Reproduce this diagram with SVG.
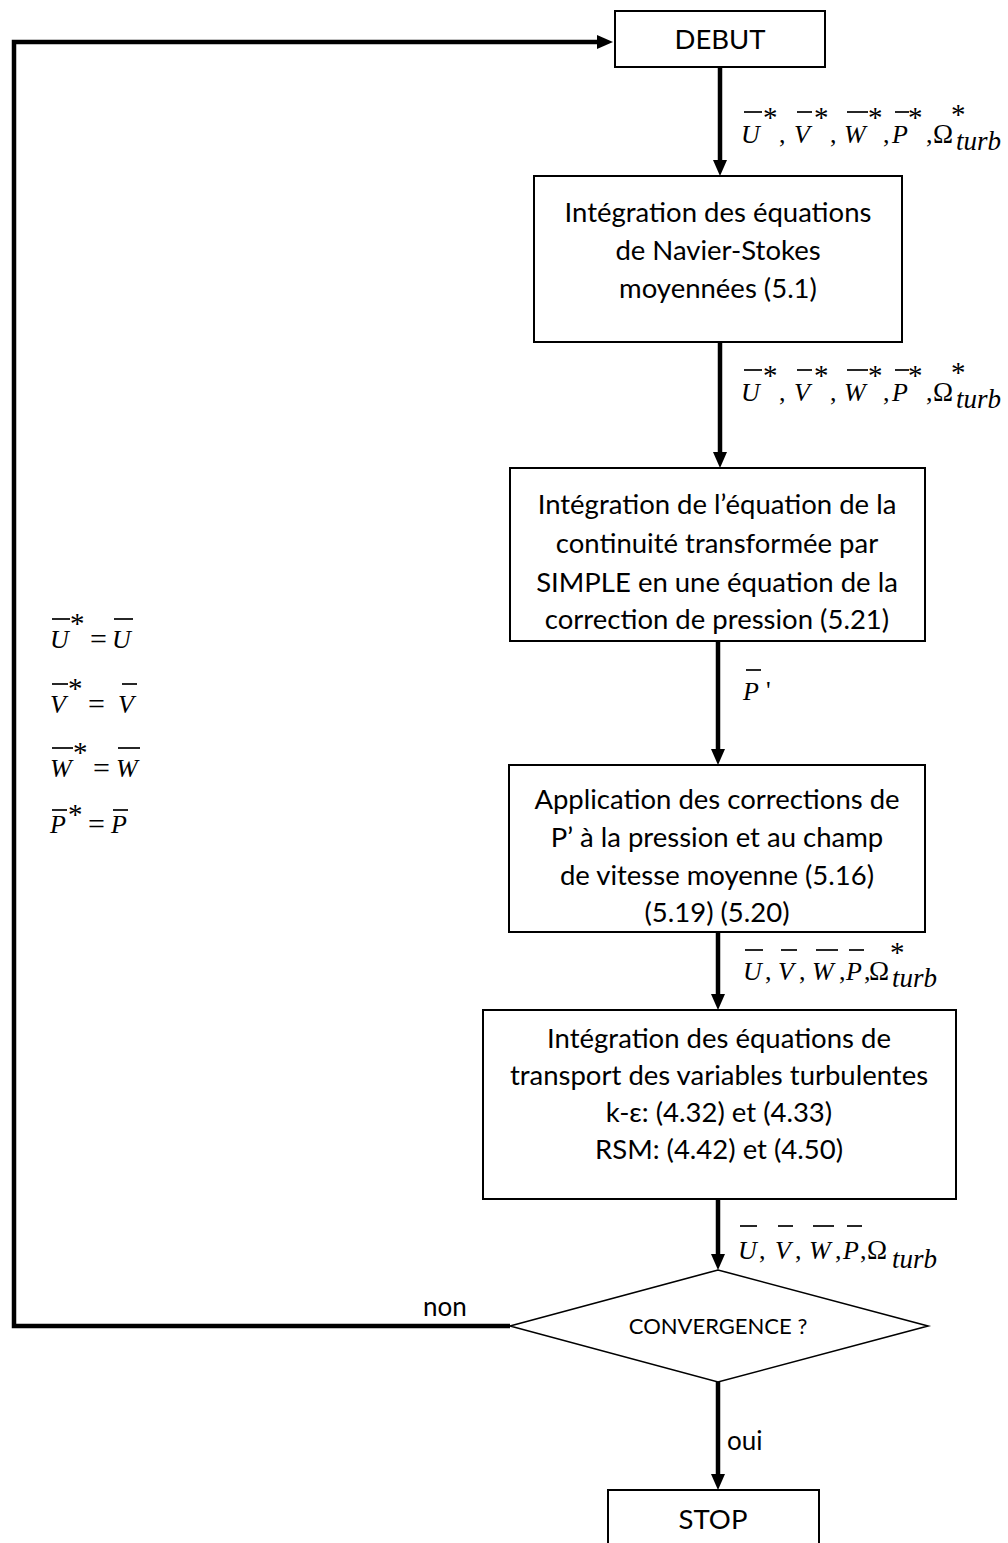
<svg xmlns="http://www.w3.org/2000/svg" width="1008" height="1543" viewBox="0 0 1008 1543">
<defs>
<style>
.box{fill:#fff;stroke:#000;stroke-width:2}
.dia{fill:#fff;stroke:#000;stroke-width:1.6}
.t{font-family:Lato,"Liberation Sans",sans-serif;font-size:27.5px;fill:#000;text-anchor:middle}
.lbl{font-family:Lato,"Liberation Sans",sans-serif;font-size:26px;fill:#000}
.m{font-family:"Liberation Serif","Times New Roman",serif;font-size:26px;font-style:italic;fill:#000}
.u{font-family:"Liberation Serif","Times New Roman",serif;font-size:26px;fill:#000}
.eq{font-family:"Liberation Serif","Times New Roman",serif;font-size:30px;fill:#000}
.st{font-family:"Liberation Serif","Times New Roman",serif;font-size:29px;fill:#000}
.om{font-family:"Liberation Serif","Times New Roman",serif;font-size:27px;fill:#000}
.tb{font-family:"Liberation Serif","Times New Roman",serif;font-size:27px;font-style:italic;fill:#000}
.ov{stroke:#000;stroke-width:1.7}
.con{fill:none;stroke:#000;stroke-width:4.5}
</style>
<marker id="ah" markerUnits="userSpaceOnUse" markerWidth="18" markerHeight="16" refX="4" refY="7" orient="auto">
<path d="M0,0 L16,7 L0,14 z" fill="#000"/>
</marker>
</defs>
<rect width="1008" height="1543" fill="#fff"/>

<g id="connectors">
<line class="con" x1="720" y1="67" x2="720" y2="164" marker-end="url(#ah)"/>
<line class="con" x1="720" y1="342" x2="720" y2="456" marker-end="url(#ah)"/>
<line class="con" x1="718" y1="641" x2="718" y2="753" marker-end="url(#ah)"/>
<line class="con" x1="718" y1="932" x2="718" y2="998" marker-end="url(#ah)"/>
<line class="con" x1="718" y1="1199" x2="718" y2="1258" marker-end="url(#ah)"/>
<line class="con" x1="718" y1="1382" x2="718" y2="1478" marker-end="url(#ah)"/>
<path class="con" d="M510,1326 H14 V42 H601" marker-end="url(#ah)"/>
</g>

<g id="debut">
<rect class="box" x="615" y="11" width="210" height="56"/>
<text class="t" x="720" y="49">DEBUT</text>
</g>

<g id="navier">
<rect class="box" x="534" y="176" width="368" height="166"/>
<text class="t" x="718" y="222">Intégration des équations</text>
<text class="t" x="718" y="260">de Navier-Stokes</text>
<text class="t" x="718" y="298">moyennées (5.1)</text>
</g>

<g id="continuite">
<rect class="box" x="510" y="468" width="415" height="173"/>
<text class="t" x="717" y="514">Intégration de l’équation de la</text>
<text class="t" x="717" y="553">continuité transformée par</text>
<text class="t" x="717" y="592">SIMPLE en une équation de la</text>
<text class="t" x="717" y="629">correction de pression (5.21)</text>
</g>

<g id="corrections">
<rect class="box" x="509" y="765" width="416" height="167"/>
<text class="t" x="717" y="809">Application des corrections de</text>
<text class="t" x="717" y="847">P’ à la pression et au champ</text>
<text class="t" x="717" y="885">de vitesse moyenne (5.16)</text>
<text class="t" x="717" y="922">(5.19) (5.20)</text>
</g>

<g id="turbulence">
<rect class="box" x="483" y="1010" width="473" height="189"/>
<text class="t" x="719" y="1048">Intégration des équations de</text>
<text class="t" x="719" y="1085">transport des variables turbulentes</text>
<text class="t" x="719" y="1122">k-ε: (4.32) et (4.33)</text>
<text class="t" x="719" y="1159">RSM: (4.42) et (4.50)</text>
</g>

<g id="convergence">
<polygon class="dia" points="510,1326 718,1270 928,1326 718,1382"/>
<text class="t" x="718" y="1334" style="font-size:22px">CONVERGENCE ?</text>
</g>

<g id="stop">
<rect class="box" x="608" y="1490" width="211" height="70"/>
<text class="t" x="713" y="1529">STOP</text>
</g>

<g id="label-non"><text class="lbl" x="423" y="1316">non</text></g>
<g id="label-oui"><text class="lbl" x="727" y="1450">oui</text></g>

<g id="label1">
<text class="m" x="741" y="143">U</text><line class="ov" x1="744" y1="112" x2="762" y2="112"/><text class="st" x="763" y="127">*</text>
<text class="u" x="779" y="143">,</text>
<text class="m" x="794" y="143">V</text><line class="ov" x1="797" y1="112" x2="812" y2="112"/><text class="st" x="814" y="127">*</text>
<text class="u" x="830" y="143">,</text>
<text class="m" x="844" y="143">W</text><line class="ov" x1="847" y1="112" x2="868" y2="112"/><text class="st" x="868" y="127">*</text>
<text class="u" x="883" y="143">,</text>
<text class="m" x="892" y="143">P</text><line class="ov" x1="895" y1="112" x2="909" y2="112"/><text class="st" x="908" y="127">*</text>
<text class="u" x="926" y="143">,</text>
<text class="om" x="933" y="143">Ω</text><text class="st" x="951" y="124">*</text>
<text class="tb" x="956" y="150">turb</text>
</g>

<g id="label2">
<text class="m" x="741" y="401">U</text><line class="ov" x1="744" y1="370" x2="762" y2="370"/><text class="st" x="763" y="385">*</text>
<text class="u" x="779" y="401">,</text>
<text class="m" x="794" y="401">V</text><line class="ov" x1="797" y1="370" x2="812" y2="370"/><text class="st" x="814" y="385">*</text>
<text class="u" x="830" y="401">,</text>
<text class="m" x="844" y="401">W</text><line class="ov" x1="847" y1="370" x2="868" y2="370"/><text class="st" x="868" y="385">*</text>
<text class="u" x="883" y="401">,</text>
<text class="m" x="892" y="401">P</text><line class="ov" x1="895" y1="370" x2="909" y2="370"/><text class="st" x="908" y="385">*</text>
<text class="u" x="926" y="401">,</text>
<text class="om" x="933" y="401">Ω</text><text class="st" x="951" y="382">*</text>
<text class="tb" x="956" y="408">turb</text>
</g>

<g id="label3">
<text class="m" x="743" y="700">P</text><line class="ov" x1="746" y1="670" x2="761" y2="670"/><text class="u" x="766" y="699">'</text>
</g>

<g id="label4">
<text class="m" x="743" y="980">U</text><line class="ov" x1="745" y1="950" x2="763" y2="950"/>
<text class="u" x="765" y="980">,</text>
<text class="m" x="778" y="980">V</text><line class="ov" x1="781" y1="950" x2="797" y2="950"/>
<text class="u" x="799" y="980">,</text>
<text class="m" x="812" y="980">W</text><line class="ov" x1="816" y1="950" x2="838" y2="950"/>
<text class="u" x="839" y="980">,</text>
<text class="m" x="846" y="980">P</text><line class="ov" x1="849" y1="950" x2="864" y2="950"/>
<text class="u" x="864" y="980">,</text>
<text class="om" x="869" y="980">Ω</text><text class="st" x="890" y="962">*</text>
<text class="tb" x="892" y="987">turb</text>
</g>

<g id="label5">
<text class="m" x="738" y="1259">U</text><line class="ov" x1="740" y1="1226" x2="757" y2="1226"/>
<text class="u" x="759" y="1259">,</text>
<text class="m" x="775" y="1259">V</text><line class="ov" x1="778" y1="1226" x2="793" y2="1226"/>
<text class="u" x="795" y="1259">,</text>
<text class="m" x="809" y="1259">W</text><line class="ov" x1="813" y1="1226" x2="834" y2="1226"/>
<text class="u" x="835" y="1259">,</text>
<text class="m" x="843" y="1259">P</text><line class="ov" x1="847" y1="1226" x2="862" y2="1226"/>
<text class="u" x="860" y="1259">,</text>
<text class="om" x="867" y="1259">Ω</text>
<text class="tb" x="892" y="1268">turb</text>
</g>

<g id="reset-equations">
<text class="m" x="50" y="648">U</text><line class="ov" x1="52" y1="619" x2="70" y2="619"/><text class="st" x="70" y="633">*</text>
<text class="eq" x="90" y="649">=</text>
<text class="m" x="112" y="648">U</text><line class="ov" x1="114" y1="619" x2="133" y2="619"/>

<text class="m" x="50" y="713">V</text><line class="ov" x1="52" y1="684" x2="68" y2="684"/><text class="st" x="68" y="698">*</text>
<text class="eq" x="88" y="714">=</text>
<text class="m" x="118" y="713">V</text><line class="ov" x1="122" y1="684" x2="137" y2="684"/>

<text class="m" x="50" y="777">W</text><line class="ov" x1="52" y1="748" x2="73" y2="748"/><text class="st" x="73" y="762">*</text>
<text class="eq" x="93" y="778">=</text>
<text class="m" x="116" y="777">W</text><line class="ov" x1="118" y1="748" x2="140" y2="748"/>

<text class="m" x="50" y="833">P</text><line class="ov" x1="52" y1="810" x2="67" y2="810"/><text class="st" x="68" y="824">*</text>
<text class="eq" x="88" y="834">=</text>
<text class="m" x="111" y="833">P</text><line class="ov" x1="113" y1="810" x2="128" y2="810"/>
</g>
</svg>
